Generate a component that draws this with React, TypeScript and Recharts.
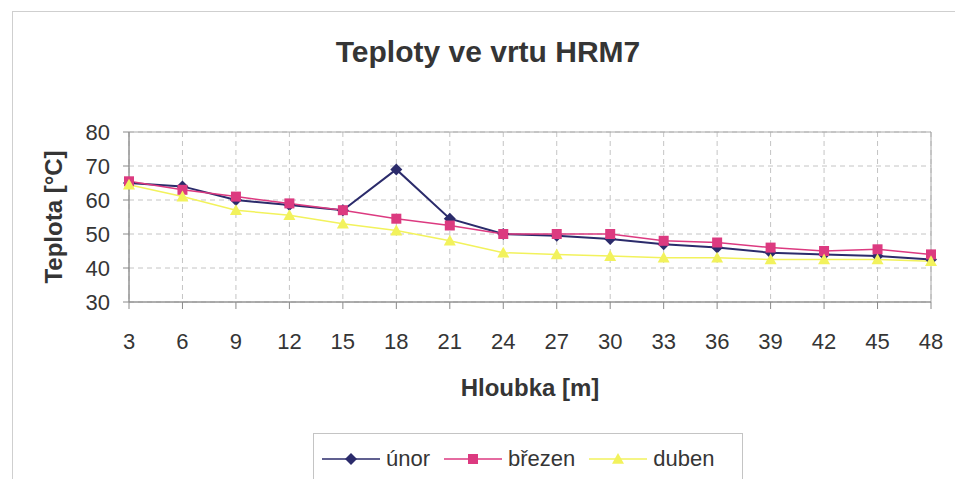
import { LineChart, Line, XAxis, YAxis, CartesianGrid, Legend, ReferenceArea } from 'recharts';

const depths = [3, 6, 9, 12, 15, 18, 21, 24, 27, 30, 33, 36, 39, 42, 45, 48];
const unor = [65, 64, 60, 58.5, 57, 69, 54.5, 50, 49.5, 48.5, 47, 46, 44.5, 44, 43.5, 42.5];
const brezen = [65.5, 63, 61, 59, 57, 54.5, 52.5, 50, 50, 50, 48, 47.5, 46, 45, 45.5, 44];
const duben = [64.5, 61, 57, 55.5, 53, 51, 48, 44.5, 44, 43.5, 43, 43, 42.5, 42.5, 42.5, 42];
const yTicks = [30, 40, 50, 60, 70, 80];
const seriesOrder = ['unor', 'brezen', 'duben'];

const NAVY = '#2b2b6b';
const PINK = '#dc3a80';
const YELLOW = '#f2f25c';
const FONT = '"Liberation Sans", Arial, sans-serif';
const TEXT = '#353535';

const data = depths.map((d, i) => ({ depth: d, unor: unor[i], brezen: brezen[i], duben: duben[i] }));

// marker shapes like the old Excel defaults (colour comes from the line stroke)
function Diamond({ cx, cy, stroke }: any) {
  if (cx == null || cy == null) return null;
  const r = 6;
  return <polygon points={`${cx},${cy - r} ${cx + r},${cy} ${cx},${cy + r} ${cx - r},${cy}`} fill={stroke} />;
}
function Square({ cx, cy, stroke }: any) {
  if (cx == null || cy == null) return null;
  const r = 5;
  return <rect x={cx - r} y={cy - r} width={r * 2} height={r * 2} fill={stroke} />;
}
function Triangle({ cx, cy, stroke }: any) {
  if (cx == null || cy == null) return null;
  const r = 6;
  return <polygon points={`${cx},${cy - r} ${cx + r},${cy + r * 0.8} ${cx - r},${cy + r * 0.8}`} fill={stroke} />;
}

const shapes: Record<string, any> = { unor: Diamond, brezen: Square, duben: Triangle };

function LegendBox({ payload }: any) {
  const items = [...(payload || [])].sort((a: any, b: any) => seriesOrder.indexOf(a.dataKey) - seriesOrder.indexOf(b.dataKey));
  return (
    <div style={{ display: 'flex', alignItems: 'center', height: '100%', paddingLeft: 8, fontFamily: FONT, fontSize: 22, color: TEXT }}>
      {items.map((p: any) => {
        const Shape = shapes[p.dataKey];
        return (
          <div key={p.dataKey} style={{ display: 'flex', alignItems: 'center', marginRight: 14 }}>
            <svg width={58} height={20} style={{ marginRight: 6 }}>
              <line x1={0} y1={10} x2={58} y2={10} stroke={p.color} strokeWidth={1.5} />
              <Shape cx={29} cy={10} stroke={p.color} />
            </svg>
            <span>{p.value}</span>
          </div>
        );
      })}
    </div>
  );
}

export default function App() {
  return (
    <div style={{ position: 'absolute', left: 0, top: 0, width: 955, height: 479, overflow: 'hidden', background: '#fff' }}>
      <div style={{ position: 'absolute', left: 12, top: 11, width: 960, height: 480, border: '1px solid #cfcfcf' }} />
      <div style={{ position: 'absolute', left: 0, top: 37, width: 976, textAlign: 'center', fontFamily: FONT, fontWeight: 'bold', fontSize: 30, lineHeight: '30px', color: TEXT }}>
        Teploty ve vrtu HRM7
      </div>
      <LineChart width={955} height={479} data={data} margin={{ top: 132, right: 24, left: 0, bottom: 81 }} style={{ fontFamily: FONT }}>
        <CartesianGrid stroke="#c4c4c4" strokeDasharray="5 4" />
        <ReferenceArea x1={3} x2={48} y1={30} y2={80} fill="none" stroke="#a8a8a8" strokeWidth={1} />
        <XAxis
          dataKey="depth"
          interval={0}
          padding={{ left: 0, right: 0 }}
          height={96}
          tickSize={7}
          tickMargin={24}
          tick={{ fill: TEXT, fontSize: 22 }}
          stroke="#8a8a8a"
          label={{ value: 'Hloubka [m]', position: 'insideBottom', offset: 2, fill: TEXT, fontSize: 24, fontWeight: 'bold' }}
        />
        <YAxis
          type="number"
          domain={[30, 80]}
          ticks={yTicks}
          width={129}
          tickSize={6}
          tickMargin={13}
          tick={{ fill: TEXT, fontSize: 22 }}
          stroke="#8a8a8a"
          label={{ value: 'Teplota [°C]', angle: -90, position: 'center', dx: -11, fill: TEXT, fontSize: 24, fontWeight: 'bold' }}
        />
        <Legend
          layout="horizontal"
          verticalAlign="middle"
          align="center"
          content={<LegendBox />}
          wrapperStyle={{ left: 313, top: 433, width: 430, height: 52, border: '1px solid #c4c4c4', boxSizing: 'border-box', background: '#fff' }}
        />
        <Line dataKey="unor" name="únor" stroke={NAVY} strokeWidth={2} dot={<Diamond />} activeDot={false} isAnimationActive={false} />
        <Line dataKey="brezen" name="březen" stroke={PINK} strokeWidth={1.5} dot={<Square />} activeDot={false} isAnimationActive={false} />
        <Line dataKey="duben" name="duben" stroke={YELLOW} strokeWidth={1.5} dot={<Triangle />} activeDot={false} isAnimationActive={false} />
      </LineChart>
    </div>
  );
}
